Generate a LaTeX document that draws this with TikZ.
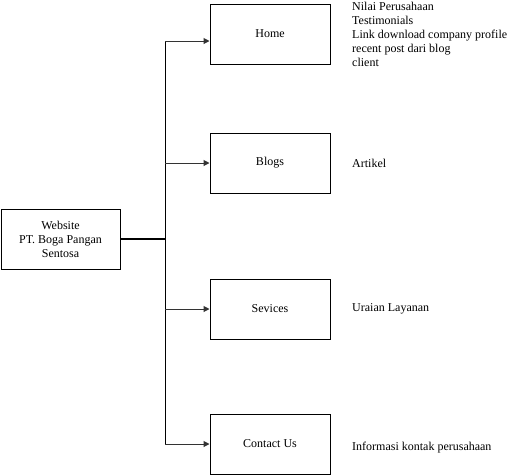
\documentclass[tikz,border=0pt]{standalone}
\usepackage{fontspec}
\setmainfont{Liberation Serif}
\usetikzlibrary{arrows.meta}
\begin{document}
\begin{tikzpicture}[x=1pt,y=-1pt,
  box/.style={draw=black,line width=1pt,minimum width=120pt,minimum height=60pt,inner sep=0pt,font=\fontsize{12pt}{14pt}\selectfont,align=center},
  note/.style={inner sep=0pt,align=left,font=\fontsize{12pt}{14pt}\selectfont},
  conn/.style={draw=black!80,line width=1pt,-{Triangle[length=6pt,width=6pt]}},
  ln/.style={draw=black,line width=1pt}]
\useasboundingbox (0,0) rectangle (531,475);
\node[box,minimum width=119pt] (web) at (60.5,239) {Website\\PT. Boga Pangan\\Sentosa};
\node[box] (home) at (270,34) {Home};
\node[box] (blogs) at (270,163) {Blogs};
\node[box] (sev) at (270,309) {Sevices};
\node[box] (contact) at (270,444) {Contact Us};
\coordinate (jm) at (165,239);
\coordinate (j1) at (165,41);
\coordinate (j4) at (165,444);
\draw[ln,line width=2pt] (web.east) -- (jm);
\draw[ln] (j1) -- (j4);
\draw[conn] (j1) -- (home.west |- j1);
\draw[conn] (blogs.west -| jm) -- (blogs.west);
\draw[conn] (sev.west -| jm) -- (sev.west);
\draw[conn] (j4) -- (contact.west);
\node[note,anchor=north west] (homenote) at (352,1.5) {Nilai Perusahaan\\Testimonials\\Link download company profile\\recent post dari blog\\client};
\node[note,anchor=west] (blogsnote) at (352,163) {Artikel};
\node[note,anchor=west] (sevnote) at (352,309) {Uraian Layanan};
\node[note,anchor=west] (contactnote) at (352,448) {Informasi kontak perusahaan};
\end{tikzpicture}
\end{document}
